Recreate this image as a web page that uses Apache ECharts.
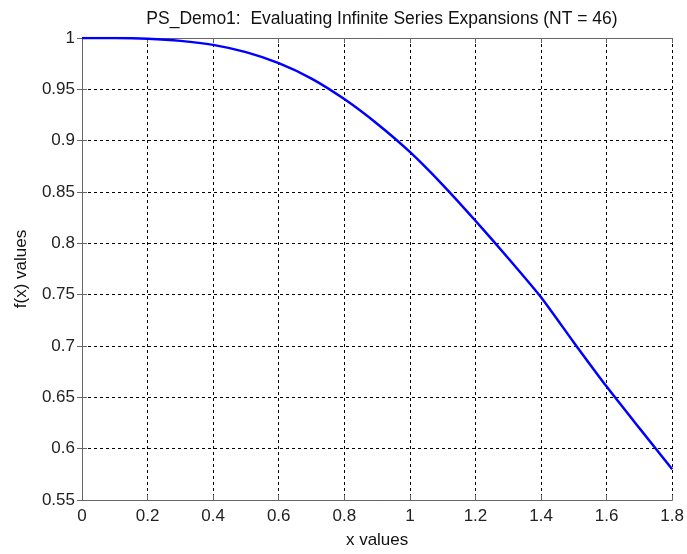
<!DOCTYPE html>
<html>
<head>
<meta charset="utf-8">
<script src="https://cdn.jsdelivr.net/npm/echarts@6/dist/echarts.min.js"></script>
<style>
  html, body { margin: 0; padding: 0; background: #fff; }
  #chart { width: 687px; height: 554px; }
</style>
</head>
<body>
<div id="chart"></div>
<script>
  // values
  var xValues = [0, 0.1, 0.2, 0.3, 0.4, 0.5, 0.6, 0.7, 0.8, 0.9, 1.0, 1.1, 1.2, 1.3, 1.4, 1.5, 1.6, 1.7, 1.8];
  var fValues = [1.0, 0.99995, 0.9992, 0.9972, 0.9933, 0.9862, 0.9755, 0.9605, 0.9405, 0.9165, 0.889, 0.857, 0.822, 0.7855, 0.7475, 0.7035, 0.6605, 0.62, 0.58];

  var titleText = 'PS_Demo1:  Evaluating Infinite Series Expansions (NT = 46)';
  var font = 'Arial, "Liberation Sans", Helvetica, sans-serif';

  var points = xValues.map(function (x, i) { return [x, fValues[i]]; });

  var gridLine = { show: true, lineStyle: { color: '#000', width: 1, type: [3, 3] } };
  var edgeLine = { show: true, lineStyle: { color: '#666', width: 1 } };
  var innerTick = { show: true, inside: true, length: 5, lineStyle: { color: '#666' } };

  var chart = echarts.init(document.getElementById('chart'));
  chart.setOption({
    animation: false,
    title: {
      text: titleText,
      left: 377, top: 5, textAlign: 'center',
      textStyle: { fontFamily: font, fontSize: 17.5, fontWeight: 'normal', color: '#111' }
    },
    grid: { left: 82, right: 10, top: 38, bottom: 47 },
    xAxis: [{
      type: 'value', min: 0, max: 1.8, interval: 0.2,
      name: 'x values', nameLocation: 'middle', nameGap: 32,
      nameTextStyle: { fontFamily: font, fontSize: 17, color: '#111' },
      axisLine: edgeLine, axisTick: innerTick, splitLine: gridLine,
      axisLabel: { fontFamily: font, fontSize: 17, color: '#222', margin: 8 }
    }, {
      type: 'value', position: 'top', min: 0, max: 1.8, interval: 0.2,
      axisLine: edgeLine, axisTick: innerTick, splitLine: { show: false },
      axisLabel: { show: false }
    }],
    yAxis: [{
      type: 'value', min: 0.55, max: 1, interval: 0.05,
      name: 'f(x) values', nameLocation: 'middle', nameGap: 52,
      nameTextStyle: { fontFamily: font, fontSize: 17, color: '#111' },
      axisLine: edgeLine, axisTick: innerTick, splitLine: gridLine,
      axisLabel: { fontFamily: font, fontSize: 17, color: '#222', margin: 7 }
    }, {
      type: 'value', position: 'right', min: 0.55, max: 1, interval: 0.05,
      axisLine: edgeLine, axisTick: innerTick, splitLine: { show: false },
      axisLabel: { show: false }
    }],
    series: [{
      type: 'line',
      data: points,
      showSymbol: false,
      smooth: 0.2,
      lineStyle: { color: '#0000ff', width: 2.5 }
    }]
  });
</script>
</body>
</html>
